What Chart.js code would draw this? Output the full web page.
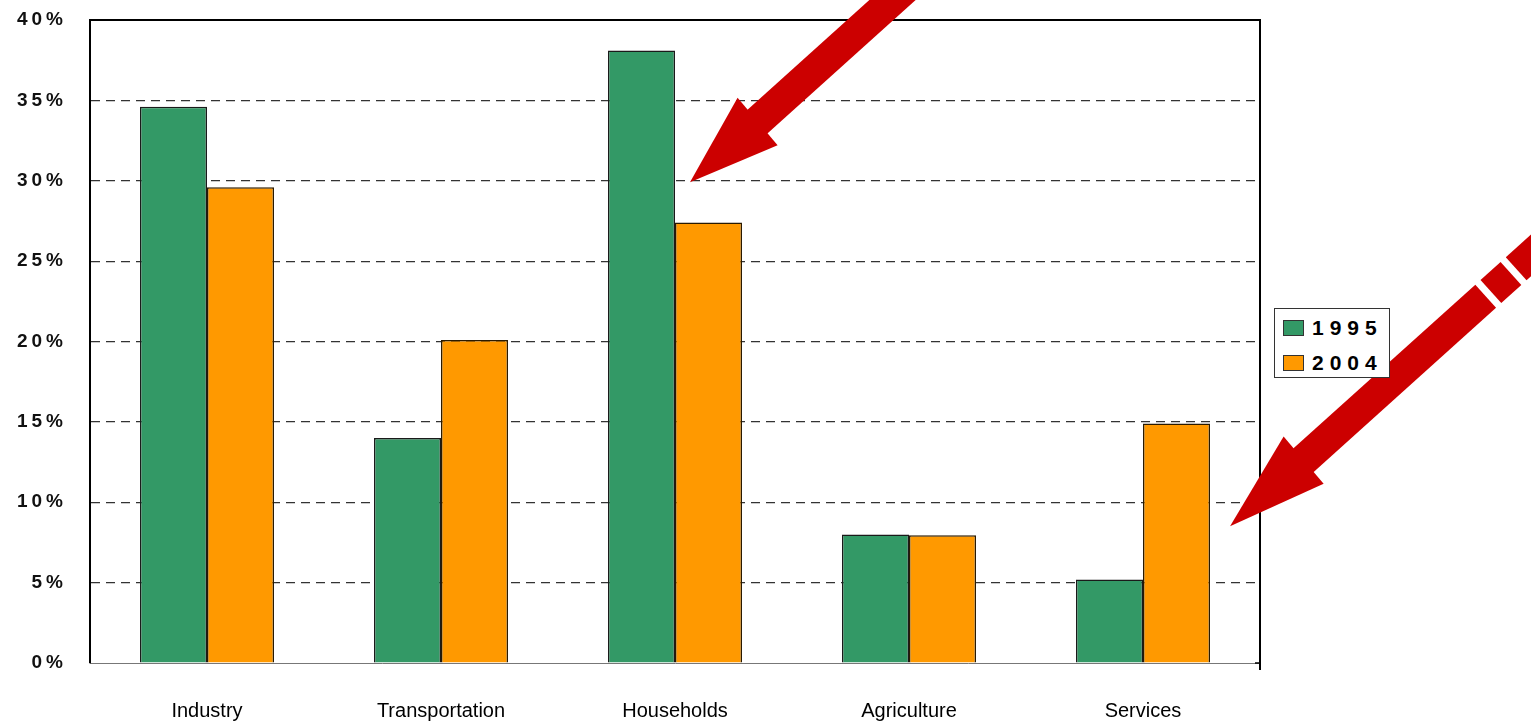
<!DOCTYPE html>
<html>
<head>
<meta charset="utf-8">
<script src="https://cdn.jsdelivr.net/npm/chart.js@4/dist/chart.umd.min.js"></script>
<style>
  body { margin: 0; background: #fff; }
  #wrap { position: relative; width: 1531px; height: 721px; }
  #legend {
    position: absolute; left: 1274px; top: 308px; width: 114px; height: 68px;
    border: 1px solid #333; background: #fff; box-sizing: content-box;
    font-family: Arial, "Liberation Sans", sans-serif; font-weight: bold;
    font-size: 21px; letter-spacing: 6px; color: #000;
  }
  #legend .item { position: absolute; left: 8px; height: 20px; line-height: 20px; white-space: nowrap; }
  #legend .sw { display: inline-block; width: 19px; height: 14px; border: 1px solid #333; vertical-align: -1px; margin-right: 8px; }
</style>
</head>
<body>
<div id="wrap">
  <canvas id="myChart" width="1531" height="721"></canvas>
  <div id="legend"></div>
</div>
<script>
// data
const categories = ['Industry', 'Transportation', 'Households', 'Agriculture', 'Services'];
const years = ['1995', '2004'];
const share1995 = [34.6, 14.0, 38.1, 8.0, 5.2];
const share2004 = [29.6, 20.1, 27.4, 7.95, 14.9];
const yMax = 40;
const yStep = 5;

const green = '#339966';
const orange = '#ff9900';

// the two red call-out arrows (tip sits next to a category, at a y value)
const arrows = [
  { cat: 2, shift: 0.064, value: 29.9, head: 92, length: 320, gaps: [] },
  { cat: 4, shift: 0.372, value: 8.5, head: 100, length: 460, gaps: [[344, 351], [378, 385]] }
];

Chart.defaults.font.family = 'Arial, "Liberation Sans", sans-serif';

const spacedYLabels = {
  id: 'spacedYLabels',
  beforeDraw(chart) {
    const y = chart.scales.y;
    if (y._spaced) return;
    const orig = y.drawLabels.bind(y);
    y.drawLabels = function (area) {
      const c = chart.ctx;
      c.save();
      c.letterSpacing = '4px';
      orig(area);
      c.restore();
    };
    y._spaced = true;
  }
};

const frame = {
  id: 'frame',
  afterDatasetsDraw(chart) {
    const { ctx, chartArea: a } = chart;
    ctx.save();
    ctx.strokeStyle = '#000';
    ctx.lineWidth = 2;
    ctx.beginPath();
    ctx.moveTo(a.left, a.top);
    ctx.lineTo(a.right, a.top);
    ctx.lineTo(a.right, a.bottom + 7);
    ctx.stroke();
    ctx.lineWidth = 1.5;
    ctx.beginPath();
    ctx.moveTo(a.right - 5, a.bottom);
    ctx.lineTo(a.right, a.bottom);
    ctx.stroke();
    ctx.restore();
  }
};

const callouts = {
  id: 'callouts',
  afterDraw(chart) {
    const { ctx } = chart;
    const x = chart.scales.x, y = chart.scales.y;
    const catW = (x.right - x.left) / categories.length;
    const ang = 42 * Math.PI / 180;
    const ux = Math.cos(ang), uy = -Math.sin(ang);
    const nx = -uy, ny = ux;
    ctx.save();
    ctx.fillStyle = '#cc0000';
    arrows.forEach(ar => {
      const tx = x.getPixelForValue(ar.cat) + ar.shift * catW;
      const ty = y.getPixelForValue(ar.value);
      const p = (along, side) => [tx + ux * along + nx * side, ty + uy * along + ny * side];
      // head
      ctx.beginPath();
      ctx.moveTo(tx, ty);
      ctx.lineTo(...p(ar.head, -31));
      ctx.lineTo(...p(ar.head - 2, 31));
      ctx.closePath();
      ctx.fill();
      // shaft, maybe broken into pieces
      let pieces = [];
      let start = ar.head - 4;
      ar.gaps.forEach(g => { pieces.push([start, g[0]]); start = g[1]; });
      pieces.push([start, ar.length]);
      pieces.forEach(([s, e]) => {
        ctx.beginPath();
        ctx.moveTo(...p(s, -15.5));
        ctx.lineTo(...p(e, -15.5));
        ctx.lineTo(...p(e, 15.5));
        ctx.lineTo(...p(s, 15.5));
        ctx.closePath();
        ctx.fill();
      });
    });
    ctx.restore();
  }
};

const chart = new Chart(document.getElementById('myChart').getContext('2d'), {
  type: 'bar',
  data: {
    labels: categories,
    datasets: [
      { label: years[0], data: share1995, backgroundColor: green, borderColor: '#1a1a1a', borderWidth: 1.5 },
      { label: years[1], data: share2004, backgroundColor: orange, borderColor: '#2a1a00', borderWidth: 1.5 }
    ]
  },
  options: {
    responsive: false,
    animation: false,
    categoryPercentage: 0.573,
    barPercentage: 1,
    layout: { padding: { top: 20, right: 271, left: 0, bottom: 0 } },
    plugins: { legend: { display: false }, tooltip: { enabled: false } },
    scales: {
      x: {
        afterFit: s => { s.height = 58; s.paddingLeft = 0; s.paddingRight = 0; },
        grid: { display: false },
        border: { display: true, color: '#777', width: 1 },
        ticks: { color: '#000', font: { size: 20 }, padding: 28, maxRotation: 0 }
      },
      y: {
        min: 0,
        max: yMax,
        afterFit: s => { s.width = 90; s.paddingTop = 0; s.paddingBottom = 0; },
        grid: {
          color: c => (c.tick && (c.tick.value === yMax || c.tick.value === 0)) ? 'rgba(0,0,0,0)' : '#333',
          lineWidth: 1.2,
          drawTicks: false
        },
        border: { display: true, color: '#000', width: 2, dash: [9, 6] },
        ticks: {
          stepSize: yStep,
          color: '#111',
          padding: 23,
          font: { size: 19, weight: 'bold' },
          callback: v => v + '%'
        }
      }
    }
  },
  plugins: [spacedYLabels, frame, callouts]
});

// legend box drawn from the datasets
const legend = document.getElementById('legend');
chart.data.datasets.forEach((ds, i) => {
  const row = document.createElement('div');
  row.className = 'item';
  row.style.top = (9 + i * 35) + 'px';
  const sw = document.createElement('span');
  sw.className = 'sw';
  sw.style.background = ds.backgroundColor;
  row.appendChild(sw);
  row.appendChild(document.createTextNode(ds.label));
  legend.appendChild(row);
});
</script>
</body>
</html>
